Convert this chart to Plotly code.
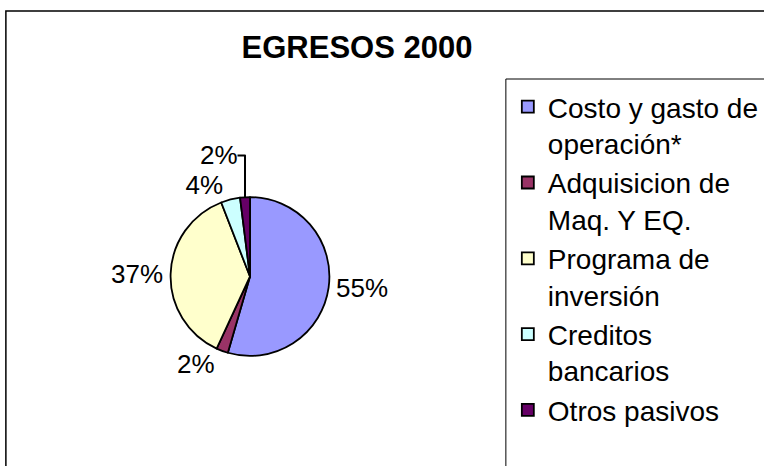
import plotly.graph_objects as go

# ---- data ----
categories = [
    "Costo y gasto de<br>operación*",
    "Adquisicion de<br>Maq. Y EQ.",
    "Programa de<br>inversión",
    "Creditos<br>bancarios",
    "Otros pasivos",
]
values = [54.5, 2.4, 37.2, 3.9, 2.0]
colors = ["#9999FF", "#993366", "#FFFFCC", "#CCFFFF", "#660066"]
title_text = "EGRESOS 2000"

W, H = 764, 466
FONT = "Liberation Sans, Arial, sans-serif"


def px_x(x):
    return x / W


def px_y(y):
    return 1 - y / H


# pie geometry (pixels)
cx, cy, r = 255, 276.5, 81

fig = go.Figure(
    go.Pie(
        labels=categories,
        values=values,
        sort=False,
        direction="clockwise",
        rotation=0,
        marker=dict(colors=colors, line=dict(color="#000000", width=1.8)),
        textposition="outside",
        texttemplate="%{percent:.0%}",
        textfont=dict(family=FONT, size=26, color="#000000"),
        domain=dict(x=[px_x(cx - r), px_x(cx + r)], y=[px_y(cy + r), px_y(cy - r)]),
        showlegend=True,
        hoverinfo="label+percent",
    )
)

fig.update_layout(
    width=W,
    height=H,
    margin=dict(l=0, r=0, t=0, b=0),
    paper_bgcolor="#FFFFFF",
    plot_bgcolor="#FFFFFF",
    title=dict(
        text="<b>" + title_text + "</b>",
        x=px_x(357),
        y=px_y(47),
        xanchor="center",
        yanchor="middle",
        font=dict(family=FONT, size=31, color="#000000"),
    ),
    legend=dict(
        x=px_x(518),
        y=px_y(82),
        xanchor="left",
        yanchor="top",
        valign="top",
        bgcolor="rgba(0,0,0,0)",
        borderwidth=0,
        font=dict(family=FONT, size=28, color="#000000"),
        itemclick=False,
        itemdoubleclick=False,
    ),
    shapes=[
        # outer chart border (extends past the visible area)
        dict(type="rect", xref="paper", yref="paper",
             x0=px_x(6), x1=px_x(W + 40), y0=px_y(H + 40), y1=px_y(11),
             line=dict(color="#000000", width=1.5), fillcolor="rgba(0,0,0,0)"),
        # legend frame (extends past the visible area)
        dict(type="rect", xref="paper", yref="paper",
             x0=px_x(516), x1=px_x(W + 40), y0=px_y(H + 40), y1=px_y(79),
             line=dict(color="#000000", width=1), fillcolor="rgba(0,0,0,0)"),
    ],
)

fig.write_html(
    "out.html",
    config={"displayModeBar": False},
    post_script="document.body.style.margin='0';document.body.style.overflow='hidden';",
)
